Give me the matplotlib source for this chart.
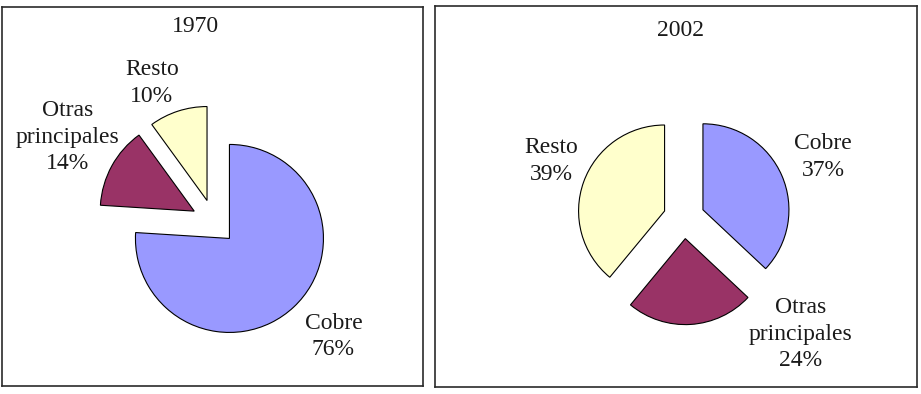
import matplotlib.pyplot as plt

plt.rcParams['font.family'] = ['Liberation Serif', 'DejaVu Serif']

# data
categories = ['Cobre', 'Otras\nprincipales', 'Resto']
colors = ['#9999FF', '#993366', '#FFFFCC']
years = ['1970', '2002']
shares_1970 = [76, 14, 10]
shares_2002 = [37, 24, 39]

# where each label sits, in pie radius units from the pie centre
label_pos_1970 = [(1.27, -1.22), (-1.56, 0.90), (-0.66, 1.48)]
label_pos_2002 = [(1.62, 0.71), (1.36, -1.35), (-1.54, 0.66)]

fig = plt.figure(figsize=(9.21, 3.94), dpi=100)
W, H = 921, 394

# frames in pixels (left, top, right, bottom), pie centre and radius in pixels
panels = [
    dict(frame=(2, 7, 423, 386), centre=(214, 222), r=94, title_xy=(195, 26),
         shares=shares_1970, label_pos=label_pos_1970, year=years[0]),
    dict(frame=(435, 6, 917, 387), centre=(684, 218), r=86, title_xy=(680, 30),
         shares=shares_2002, label_pos=label_pos_2002, year=years[1]),
]

for p in panels:
    l, t, rgt, b = p['frame']
    ax = fig.add_axes([l / W, 1 - b / H, (rgt - l) / W, (b - t) / H])
    labels = [f'{c}\n{v}%' for c, v in zip(categories, p['shares'])]
    wedges, texts = ax.pie(p['shares'], colors=colors, startangle=90, counterclock=False,
                           explode=[0.24, 0.24, 0.24], labels=labels,
                           wedgeprops=dict(edgecolor='black', linewidth=0.8),
                           textprops=dict(fontsize=17, color='#1a1a1a'))
    for txt, pos in zip(texts, p['label_pos']):
        txt.set_position(pos)
        txt.set_ha('center')
        txt.set_va('center')
        txt.set_multialignment('center')
        txt.set_linespacing(1.35)
    cx, cy = p['centre']
    r = p['r']
    ax.set_aspect('auto')
    ax.set_xlim((l - cx) / r, (rgt - cx) / r)
    ax.set_ylim((cy - b) / r, (cy - t) / r)
    ax.set_frame_on(True)
    for s in ax.spines.values():
        s.set_linewidth(1.2)
        s.set_color('#2a2a2a')
    ax.set_xticks([])
    ax.set_yticks([])
    tx, ty = p['title_xy']
    ax.text((tx - l) / (rgt - l), (b - ty) / (b - t), p['year'], transform=ax.transAxes,
            ha='center', va='center', fontsize=17, color='#1a1a1a')

fig.savefig('out.png', dpi=100)
